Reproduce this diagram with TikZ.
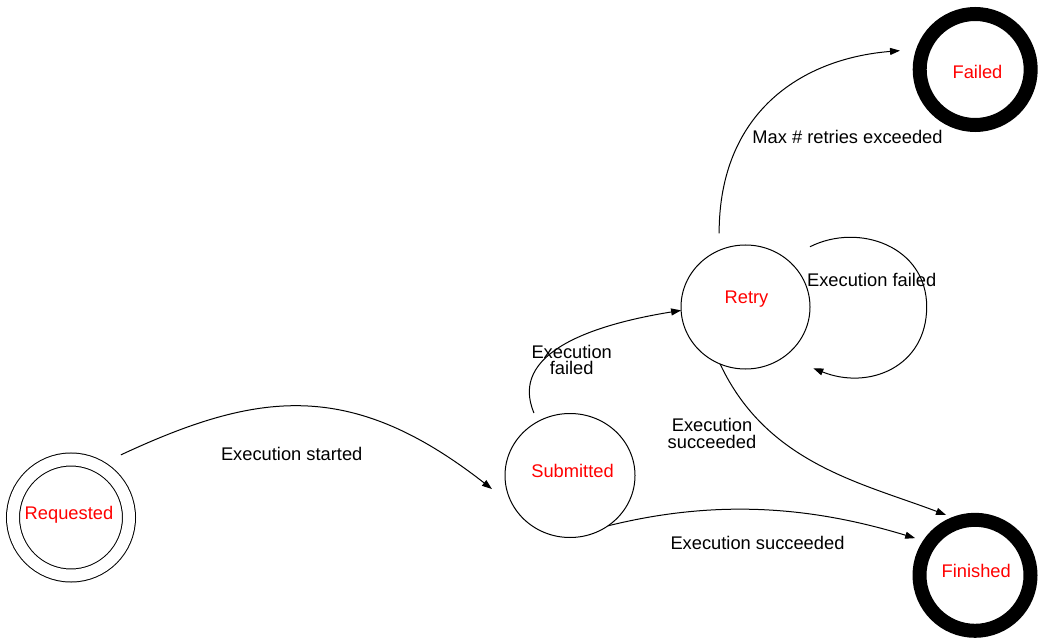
\documentclass[tikz,border=0pt]{standalone}
\usepackage{fontspec}
\setmainfont{Liberation Sans}
\usetikzlibrary{arrows.meta,shapes.geometric}

\newcommand\diagfont{\fontsize{18.3bp}{16.5bp}\selectfont}

\begin{document}
\begin{tikzpicture}[x=1bp,y=-1bp,
  thinstate/.style={draw=black, line width=1bp, inner sep=0pt, outer sep=0pt},
  startstate/.style={thinstate, circle, double, double distance=12bp, minimum size=116bp},
  midstate/.style={thinstate, ellipse, minimum width=#1, minimum height=124bp},
  endstate/.style={circle, draw=black, line width=14bp, minimum size=111bp, inner sep=0pt, outer sep=0pt},
  statename/.style={text=red, font=\diagfont, inner sep=0pt, text height=13.1bp, text depth=0bp},
  edgelabel/.style={font=\diagfont, inner sep=0pt, text height=13.1bp, text depth=0bp},
  edgelabel2/.style={font=\diagfont, inner sep=0pt, align=center},
  transition/.style={draw=black, line width=1bp, -{Triangle[length=10bp,width=7bp]}}
]
% canvas
\fill[white] (0,0) rectangle (1039,640);
\useasboundingbox (0,0) rectangle (1039,640);

% states
\node[startstate] (req) at (71,517.5) {};
\node[midstate=130bp] (sub) at (570,475.5) {};
\node[midstate=129bp] (retry) at (745.5,307) {};
\node[endstate] (failed) at (975.2,69.5) {};
\node[endstate] (finished) at (975,575.3) {};

% state names
\node[statename] (nreq) at (69,512.5) {Requested};
\node[statename] (nsub) at (572.5,471.3) {Submitted};
\node[statename] (nretry) at (746.5,297) {Retry};
\node[statename] (nfailed) at (977.5,72) {Failed};
\node[statename] (nfinished) at (976.2,570.8) {Finished};

% transitions
\draw[transition, shorten <=26bp, shorten >=27bp]
  (req.63) .. controls (257,391.5) and (350,378) .. (sub.208);
\draw[transition, shorten <=9.5bp]
  (sub.121) .. controls (508.6,353.2) and (591.3,324.9) .. (retry.183);
\draw[transition, shorten >=15.6bp]
  (sub.-53) .. controls (724.1,497) and (819.4,509.1) .. (finished.144);
\draw[transition, shorten >=17.6bp]
  (retry.-114) .. controls (766.9,463.6) and (861.9,483) .. (finished.103);
\draw[transition, shorten <=17.1bp, shorten >=23.8bp]
  (retry.115) .. controls (719.1,113.3) and (800.3,58.7) .. (failed.158);
\draw[transition, shorten <=26.8bp, shorten >=31.3bp]
  (retry.50) .. controls (859.2,222.1) and (926.7,246.7) .. (926.7,306.7)
  .. controls (926.7,366.7) and (869,390.6) .. (retry.-52);

% transition labels
\node[edgelabel] (lstart) at (291.7,453.7) {Execution started};
\node[edgelabel2] (lfail1) at (571.7,360) {Execution\\failed};
\node[edgelabel2] (lsucc1) at (712,433.5) {Execution\\succeeded};
\node[edgelabel] (lsucc2) at (757.5,543.3) {Execution succeeded};
\node[edgelabel] (lmax) at (847.5,136.7) {Max \# retries exceeded};
\node[edgelabel] (lfail2) at (871.7,279.5) {Execution failed};
\end{tikzpicture}
\end{document}
